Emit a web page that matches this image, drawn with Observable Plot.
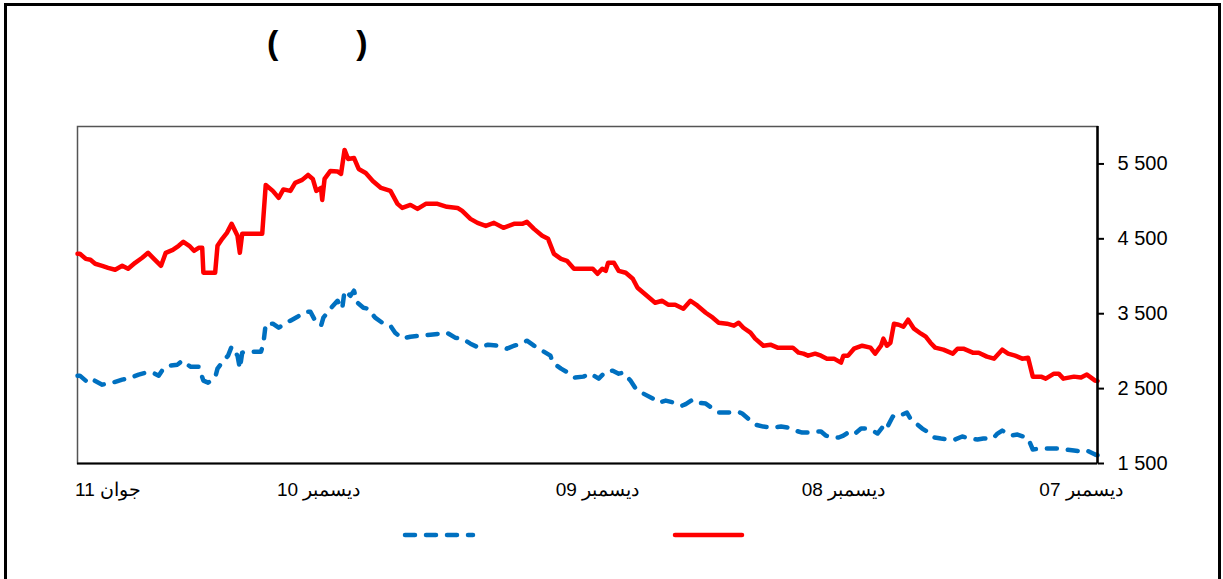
<!DOCTYPE html>
<html>
<head>
<meta charset="utf-8">
<script src="https://cdn.jsdelivr.net/npm/d3@7"></script>
<script src="https://cdn.jsdelivr.net/npm/@observablehq/plot@0.6"></script>
<style>
  body { margin: 0; background: #fff; font-family: "Liberation Sans", Arial, sans-serif; }
  #page { position: relative; width: 1223px; height: 579px; overflow: hidden; }
  #border { position: absolute; left: 4px; top: 3px; width: 1217px; height: 620px; border: 3px solid #000; box-sizing: border-box; pointer-events: none; }
  #title { height: 84px; line-height: 84px; font-weight: bold; font-size: 34px; padding-left: 267px; white-space: pre; color: #000; }
  #title .gap { display: inline-block; width: 78px; }
  #chart svg, #legend svg { display: block; }
</style>
</head>
<body>
<div id="page">
  <div id="title"><span>(</span><span class="gap"></span><span>)</span></div>
  <div id="chart"></div>
  <div id="legend"></div>
  <div id="border"></div>
</div>
<script>
// x: trading-day index counted from the start of the series (Dec 2007); axis runs right to left
const xTickDays   = [14, 216, 425, 662, 841];
const xTickLabels = ["ديسمبر 07", "ديسمبر 08", "ديسمبر 09", "ديسمبر 10", "جوان 11"];
const yTicks = [1500, 2500, 3500, 4500, 5500];

// red series (solid)
const redDays = [867,865,860,856,852,846,841,835,829,824,818,812,807,802,796,792,786,781,777,772,768,764,761,760,750,748,744,740,736,731,729,727,710,707,701,696,692,686,682,676,671,667,664,660,659,657,652,646,643,640,637,632,628,622,616,609,601,595,591,584,578,571,561,553,544,540,533,527,520,513,505,496,489,485,479,472,467,462,456,451,445,437,429,425,421,418,416,411,407,401,395,391,386,380,376,370,365,359,352,346,340,333,327,322,315,309,305,301,295,291,284,278,272,265,259,254,250,246,240,235,230,224,218,216,212,207,200,193,189,184,182,179,176,173,169,165,161,156,150,146,142,138,131,123,119,114,106,101,94,88,81,76,70,64,59,55,48,44,37,33,29,20,14,9,2,0];
const redValues = [4300,4300,4233,4220,4167,4140,4113,4087,4140,4100,4180,4247,4313,4233,4140,4313,4353,4407,4460,4407,4340,4380,4380,4047,4047,4407,4500,4580,4700,4540,4313,4567,4567,5220,5140,5047,5160,5140,5247,5287,5353,5300,5140,5180,5020,5300,5407,5400,5367,5687,5567,5580,5433,5380,5273,5180,5140,4967,4913,4953,4900,4967,4967,4927,4913,4873,4767,4713,4673,4713,4647,4700,4700,4727,4633,4540,4500,4300,4233,4207,4100,4100,4100,4033,4100,4073,4180,4180,4073,4047,3967,3847,3780,3700,3647,3673,3620,3620,3567,3673,3607,3513,3447,3380,3367,3340,3380,3313,3247,3167,3073,3087,3047,3047,3047,2980,2967,2940,2967,2940,2900,2900,2847,2940,2940,3033,3073,3047,2967,3073,3167,3073,3113,3367,3353,3327,3420,3300,3233,3193,3113,3047,3020,2967,3033,3033,2980,2980,2927,2900,3020,2967,2940,2900,2913,2660,2660,2633,2700,2700,2633,2660,2647,2687,2607,2600];

// blue series (dashed)
const blueDays = [867,865,858,854,846,837,829,824,815,809,803,798,794,788,782,778,771,764,760,756,750,748,743,739,736,731,729,727,722,711,709,707,701,696,690,686,680,673,669,665,660,658,652,646,642,640,635,632,629,624,620,614,608,601,597,591,584,575,567,559,553,546,540,533,526,518,510,502,496,489,485,479,472,465,463,456,450,444,437,431,424,418,412,407,403,397,393,386,378,373,367,360,353,350,344,339,333,327,322,315,305,302,297,291,284,276,269,263,257,251,246,240,235,231,225,220,216,212,207,201,196,190,187,183,180,178,174,170,166,162,159,153,149,145,139,133,126,121,115,108,102,97,89,85,81,74,68,63,59,55,48,42,34,27,20,14,9,2,0];
const blueValues = [2673,2673,2580,2620,2553,2580,2620,2633,2687,2713,2713,2673,2767,2807,2820,2873,2793,2793,2607,2580,2647,2767,2873,2940,3060,2940,2767,2980,2993,2993,3100,3367,3367,3313,3380,3407,3460,3527,3527,3407,3340,3447,3567,3673,3567,3807,3740,3807,3647,3580,3567,3447,3380,3340,3247,3167,3193,3207,3220,3233,3247,3180,3167,3100,3047,3087,3073,3033,3073,3100,3140,3073,3007,2940,2847,2767,2713,2647,2660,2700,2633,2727,2740,2700,2713,2607,2513,2433,2367,2313,2340,2313,2273,2293,2353,2313,2300,2233,2180,2180,2187,2167,2100,2020,1993,1980,1993,1980,1940,1913,1913,1927,1927,1873,1847,1847,1873,1913,1887,1967,1967,1927,1900,1980,1940,2007,2127,2113,2153,2180,2100,2020,1967,1927,1847,1833,1820,1820,1860,1833,1820,1833,1833,1900,1940,1873,1887,1860,1833,1687,1700,1700,1700,1687,1673,1660,1673,1620,1610];

const RED = "#FF0000", BLUE = "#0070C0";
const red = redDays.map((d, i) => ({day: d, value: redValues[i]}));
const blue = blueDays.map((d, i) => ({day: d, value: blueValues[i]}));
const labelByDay = new Map(xTickDays.map((d, i) => [d, xTickLabels[i]]));
const fmt = d3.formatLocale({decimal: ".", thousands: " ", grouping: [3], currency: ["", ""]}).format(",");
const FONT = '"Liberation Sans", Arial, sans-serif';

const chart = Plot.plot({
  width: 1223,
  height: 425,
  marginTop: 42,
  marginBottom: 46,
  marginLeft: 77,
  marginRight: 126,
  style: {fontFamily: FONT, color: "#000", background: "transparent", overflow: "visible"},
  x: {domain: [0, 867], reverse: true},
  y: {domain: [1500, 6000]},
  marks: [
    Plot.frame({stroke: "#555", strokeWidth: 1.5}),
    Plot.lineY(blue, {x: "day", y: "value", stroke: BLUE, strokeWidth: 4.5, strokeDasharray: "10,11", strokeLinecap: "round", strokeLinejoin: "round"}),
    Plot.lineY(red, {x: "day", y: "value", stroke: RED, strokeWidth: 4.5, strokeLinecap: "round", strokeLinejoin: "round"}),
    Plot.ruleY([1500], {stroke: "#000", strokeWidth: 2}),
    Plot.ruleX([0], {stroke: "#000", strokeWidth: 2.5}),
    Plot.axisY({anchor: "right", ticks: yTicks, tickFormat: fmt, tickSize: 6, tickPadding: 14, label: null, fontSize: 20, stroke: "#000", strokeWidth: 2}),
    Plot.axisX({ticks: xTickDays, tickFormat: d => labelByDay.get(d), tickSize: 0, tickPadding: 19, label: null, fontSize: 19})
  ]
});
document.getElementById("chart").appendChild(chart);

// legend (series labels are blank in the reference)
const legend = d3.create("svg").attr("width", 1223).attr("height", 70);
const items = [
  {color: BLUE, dash: "10,11", x1: 405, x2: 473},
  {color: RED, dash: null, x1: 675, x2: 742}
];
for (const it of items) {
  legend.append("line")
    .attr("x1", it.x1).attr("x2", it.x2).attr("y1", 26).attr("y2", 26)
    .attr("stroke", it.color).attr("stroke-width", 4.5).attr("stroke-linecap", "round")
    .attr("stroke-dasharray", it.dash);
}
document.getElementById("legend").appendChild(legend.node());
</script>
</body>
</html>
